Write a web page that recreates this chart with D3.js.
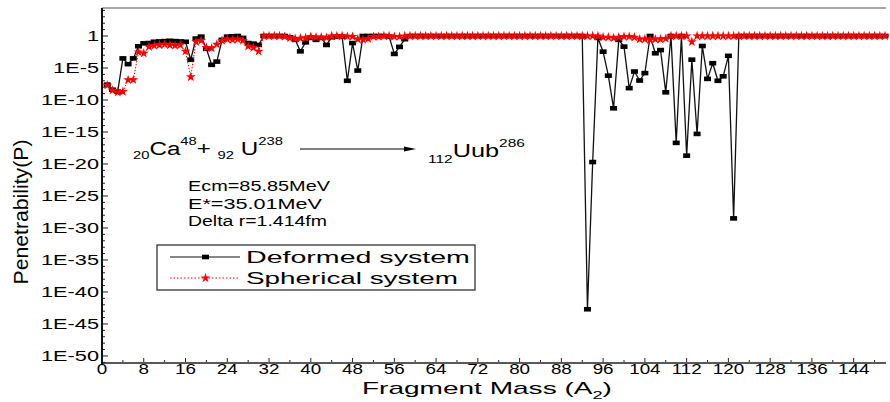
<!DOCTYPE html>
<html><head><meta charset="utf-8">
<script src="https://cdn.jsdelivr.net/npm/d3@7"></script>
<style>body{margin:0;background:#fff}svg{display:block;font-family:"Liberation Sans",Arial,sans-serif}</style>
</head><body><svg id="c" width="890" height="402"></svg>
<script>
// Fragment mass numbers A2
const fragmentMass = d3.range(1, 151);
// log10 of penetrability (A2 = 1..150)
const deformedExp = [
 -7.6,-8.4,-8.7,-3.5,-4.4,-3.5,-1.6,-1.15,-1.1,-0.9,
 -0.85,-0.8,-0.75,-0.8,-0.85,-0.9,-3.7,-0.4,-0.1,-2.0,
 -4.5,-4.0,-0.6,-0.1,-0.05,0,-0.3,-1.1,-1.2,-1.4,
 0,0,0,0,0,-0.2,-0.6,-2.4,-1.0,-0.3,
 -0.6,-0.3,-1.4,-0.2,-0.1,-0.1,-7.0,-1.1,-5.4,0,
 0,0,0,0,-0.1,-2.8,-1.7,-0.5,0,0,
 0,0,0,0,0,0,0,0,0,0,
 0,0,0,0,0,0,0,0,0,0,
 0,0,0,0,0,0,0,0,0,0,
 0,0,-42.7,-19.7,-0.3,-2.45,-6.2,-11.3,-0.6,-1.66,
 -8.15,-5.55,-6.96,-5.8,0,-2.7,-2.2,-8.8,0,-16.7,
 0,-18.7,-3.7,-15.3,-1.56,-6.7,-4.25,-7.0,-6.3,-3.1,
 -28.5,0,0,0,0,0,0,0,0,0,
 0,0,0,0,0,0,0,0,0,0,
 0,0,0,0,0,0,0,0,0,0
];
const sphericalExp = [
 -7.7,-8.5,-8.8,-8.7,-6.85,-6.85,-2.5,-2.7,-1.7,-1.5,
 -1.4,-1.3,-1.4,-1.5,-1.4,-2.4,-6.4,-0.9,-0.7,-1.8,
 -1.9,-1.3,-0.7,-0.5,-0.6,-0.5,-0.7,-1.6,-1.8,-2.4,
 0,0,0,0,-0.1,-0.3,-0.4,-0.35,-0.3,-0.1,
 -0.2,-0.2,-0.25,0,0,0,-0.05,-0.1,-0.5,-0.55,
 -0.45,-0.1,-0.1,0,0,-0.1,-0.1,0,0,0,
 0,0,0,0,0,0,0,0,0,0,
 0,0,0,0,0,0,0,0,0,0,
 0,0,0,0,0,0,0,0,0,0,
 0,0,0,0,0,-0.2,-0.2,-0.3,-0.2,-0.1,
 -0.1,-0.2,-0.5,-0.5,-0.6,-0.5,-0.5,-0.4,0,0,
 0,0,-0.9,0,0,0,0,0,0,0,
 0,0,0,0,0,0,0,0,0,0,
 0,0,0,0,0,0,0,0,0,0,
 0,0,0,0,0,0,0,0,0,0
];
const yTickExp = [0,-5,-10,-15,-20,-25,-30,-35,-40,-45,-50];
const yTickLabels = ["1","1E-5","1E-10","1E-15","1E-20","1E-25","1E-30","1E-35","1E-40","1E-45","1E-50"];
const xTickValues = [0,8,16,24,32,40,48,56,64,72,80,88,96,104,112,120,128,136,144];
const seriesNames = ["Deformed system","Spherical system"];

const deformed = fragmentMass.map((a,i)=>({a, p: Math.pow(10, deformedExp[i])}));
const spherical = fragmentMass.map((a,i)=>({a, p: Math.pow(10, sphericalExp[i])}));

const svg = d3.select("#c");
const x = d3.scaleLinear().domain([0,150]).range([102,885]);
const y = d3.scaleLog().domain([Math.pow(10,-51.1), Math.pow(10,4.375)]).range([363,8]);

function sText(parent, str, px, py, size, sx, anchor){
  return parent.append("text")
    .attr("transform", `translate(${px},${py}) scale(${sx},1)`)
    .attr("text-anchor", anchor).attr("font-size", size).attr("fill","#000").text(str);
}
function fitStart(t, px, py, target, sy){
  const w = t.node().getBBox().width;
  t.attr("transform", `translate(${px},${py}) scale(${target/w},${sy||1})`);
}

// frame
svg.append("line").attr("x1",102).attr("x2",886).attr("y1",8).attr("y2",8).attr("stroke","#555").attr("stroke-width",1);
svg.append("line").attr("x1",101).attr("x2",886).attr("y1",363).attr("y2",363).attr("stroke","#222").attr("stroke-width",1.6);
svg.append("line").attr("x1",102).attr("x2",102).attr("y1",8).attr("y2",364).attr("stroke","#111").attr("stroke-width",2);

// y ticks (inward)
const decades = d3.range(-51, 5);
svg.append("g").selectAll("line").data(decades).join("line")
  .attr("x1",103).attr("x2",d=> d%5===0?108:105)
  .attr("y1",d=>y(Math.pow(10,d))).attr("y2",d=>y(Math.pow(10,d)))
  .attr("stroke","#222").attr("stroke-width",1);
const yl = svg.append("g");
yTickExp.forEach((e,i)=>{
  sText(yl, yTickLabels[i], 99, y(Math.pow(10,e))+5, 15, 1.45, "end");
});
// x ticks
const xMinor = d3.range(4, 150, 8);
svg.append("g").selectAll("line").data(xTickValues.concat(xMinor)).join("line")
  .attr("x1",d=>x(d)).attr("x2",d=>x(d))
  .attr("y1",362).attr("y2",d=> xTickValues.includes(d)?358:360)
  .attr("stroke","#222").attr("stroke-width",1);
const xl = svg.append("g");
xTickValues.forEach(v=>{ sText(xl, String(v), x(v), 373.5, 14.5, 1.3, "middle"); });

// axis titles
const xt = svg.append("text").attr("font-size",17).attr("fill","#000");
xt.append("tspan").text("Fragment Mass (A");
xt.append("tspan").attr("font-size",11).attr("dy",5).text("2");
xt.append("tspan").attr("dy",-5).text(")");
fitStart(xt, 362, 394, 250, 1);

const ytg = svg.append("g").attr("transform","translate(28,212) rotate(-90)");
const yt = ytg.append("text").attr("text-anchor","middle").attr("font-size",16).attr("fill","#000").text("Penetrability(P)");
{ const w = yt.node().getBBox().width; yt.attr("transform",`scale(${145/w},1.25)`); }

// series
const line = d3.line().x(d=>x(d.a)).y(d=>y(d.p));
svg.append("path").datum(deformed).attr("d",line).attr("fill","none").attr("stroke","#111").attr("stroke-width",1.3);
svg.append("g").selectAll("rect").data(deformed).join("rect")
  .attr("x",d=>x(d.a)-3.5).attr("y",d=>y(d.p)-2.3).attr("width",7).attr("height",4.6).attr("fill","#000");
svg.append("path").datum(spherical).attr("d",line).attr("fill","none").attr("stroke","#ff0000").attr("stroke-width",1).attr("stroke-dasharray","1.5,1.5");
const star = d3.symbol().type(d3.symbolStar).size(30);
svg.append("g").selectAll("path").data(spherical).join("path")
  .attr("transform",d=>`translate(${x(d.a)},${y(d.p)})`).attr("d",star).attr("fill","#ff0000");

// reaction annotation
const r1 = svg.append("text").attr("font-size",18).attr("fill","#000");
r1.append("tspan").attr("font-size",11).attr("dy",4).text("20");
r1.append("tspan").attr("dy",-4).text("Ca");
r1.append("tspan").attr("font-size",11).attr("dy",-10).text("48");
r1.append("tspan").attr("dy",10).text("+ ");
r1.append("tspan").attr("font-size",11).attr("dy",4).text("92");
r1.append("tspan").attr("dy",-4).text("  U");
r1.append("tspan").attr("font-size",11).attr("dy",-10).text("238");
fitStart(r1, 133, 155, 150, 1);
svg.append("line").attr("x1",300).attr("x2",408).attr("y1",149).attr("y2",149).attr("stroke","#000").attr("stroke-width",1);
svg.append("path").attr("d","M404,146.5 L416,149 L404,151.5 Z").attr("fill","#000");
const r2 = svg.append("text").attr("font-size",18).attr("fill","#000");
r2.append("tspan").attr("font-size",11).attr("dy",6).text("112");
r2.append("tspan").attr("dy",-6).text("Uub");
r2.append("tspan").attr("font-size",11).attr("dy",-10).text("286");
fitStart(r2, 428, 157, 97, 1);

// parameters
const params = ["Ecm=85.85MeV","E*=35.01MeV","Delta r=1.414fm"];
const pw = [142,134,139];
params.forEach((s,i)=>{
  const t = svg.append("text").attr("font-size",15).attr("fill","#000").text(s);
  fitStart(t, 188, 191 + i*17.5, pw[i], 1);
});

// legend
const lg = svg.append("g");
lg.append("rect").attr("x",157).attr("y",245).attr("width",318).attr("height",45).attr("fill","#fff").attr("stroke","#333").attr("stroke-width",1.3);
lg.append("line").attr("x1",170).attr("x2",240).attr("y1",257).attr("y2",257).attr("stroke","#111").attr("stroke-width",1.2);
lg.append("rect").attr("x",202).attr("y",254.7).attr("width",7).attr("height",4.6).attr("fill","#000");
lg.append("line").attr("x1",170).attr("x2",240).attr("y1",278).attr("y2",278).attr("stroke","#ff0000").attr("stroke-width",1).attr("stroke-dasharray","1.5,2");
lg.append("path").attr("transform","translate(205.5,278)").attr("d",star).attr("fill","#ff0000");
const lt1 = lg.append("text").attr("font-size",17).attr("fill","#000").text(seriesNames[0]);
fitStart(lt1, 246, 263, 224, 1);
const lt2 = lg.append("text").attr("font-size",17).attr("fill","#000").text(seriesNames[1]);
fitStart(lt2, 246, 284, 212, 1);
</script></body></html>
